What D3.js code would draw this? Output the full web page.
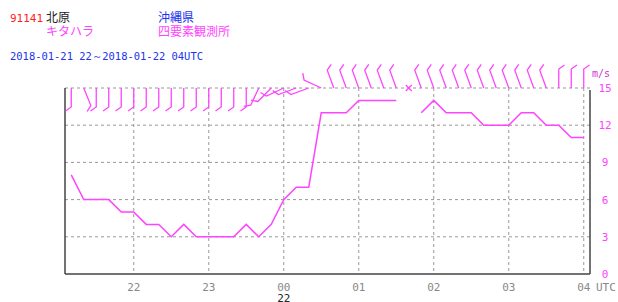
<!DOCTYPE html>
<html>
<head>
<meta charset="utf-8">
<script src="https://cdn.jsdelivr.net/npm/d3@7"></script>
<style>
body { margin: 0; background: #fff; }
svg { display: block; }
text { font-family: "DejaVu Sans Mono", monospace; }
</style>
</head>
<body>
<script>
// 10-minute observations, UTC
var times = ["21:10","21:20","21:30","21:40","21:50","22:00","22:10","22:20","22:30","22:40","22:50",
             "23:00","23:10","23:20","23:30","23:40","23:50","00:00","00:10","00:20","00:30","00:40",
             "00:50","01:00","01:10","01:20","01:30","01:40","01:50","02:00","02:10","02:20","02:30",
             "02:40","02:50","03:00","03:10","03:20","03:30","03:40","03:50","04:00"];
var speed = [8,6,6,6,5,5,4,4,3,4,3,
             3,3,3,4,3,4,6,7,7,13,13,
             13,14,14,14,14,null,13,14,13,13,13,
             12,12,12,13,13,12,12,11,11];
// wind direction (deg, from)
var dir = [180,158,180,180,180,180,180,180,180,180,180,
           180,180,180,180,205,225,245,250,250,295,340,
           340,340,340,340,340,null,340,340,340,340,340,
           340,340,340,340,340,340,360,360,360];
var yTicks = [0,3,6,9,12,15];
var hourTicks = ["22","23","00","01","02","03","04"];

var W = 618, H = 302;
var pLeft = 65, pRight = 590, pTop = 88, pBottom = 274;
var magenta = "#ff44ff";

function toDate(s) {
  var h = +s.slice(0,2), m = +s.slice(3);
  var day = h >= 12 ? 21 : 22;
  return new Date(Date.UTC(2018, 0, day, h, m));
}

var x = d3.scaleTime()
  .domain([new Date(Date.UTC(2018,0,21,21,5)), new Date(Date.UTC(2018,0,22,4,5))])
  .range([pLeft, pRight]);
var y = d3.scaleLinear().domain([0, 15]).range([pBottom, pTop]);

var svg = d3.select("body").append("svg").attr("width", W).attr("height", H);

// header text
svg.append("text").attr("x", 10).attr("y", 22).attr("fill", "#ff2020")
  .attr("font-size", 11).text("91141");
svg.append("text").attr("x", 46).attr("y", 22).attr("fill", "#222")
  .style("font-family", "'Noto Sans CJK JP'").attr("font-size", 12).text("北原");
svg.append("text").attr("x", 46).attr("y", 36).attr("fill", magenta)
  .style("font-family", "'Noto Sans CJK JP'").attr("font-size", 12).text("キタハラ");
svg.append("text").attr("x", 158).attr("y", 22).attr("fill", "#2233ee")
  .style("font-family", "'Noto Sans CJK JP'").attr("font-size", 12).text("沖縄県");
svg.append("text").attr("x", 158).attr("y", 36).attr("fill", magenta)
  .style("font-family", "'Noto Sans CJK JP'").attr("font-size", 12).text("四要素観測所");
svg.append("text").attr("x", 10).attr("y", 60).attr("fill", "#2233ee")
  .attr("font-size", 11).attr("textLength", 193).attr("lengthAdjust", "spacingAndGlyphs")
  .text("2018-01-21 22～2018-01-22 04UTC");

// grid
var hours = hourTicks.map(function(h, i) { return new Date(Date.UTC(2018,0,21,22+i,0)); });
svg.selectAll(".vgrid").data(hours).enter().append("line")
  .attr("x1", function(d) { return x(d); }).attr("x2", function(d) { return x(d); })
  .attr("y1", pTop).attr("y2", pBottom)
  .attr("stroke", "#999").attr("stroke-dasharray", "3,3");
svg.selectAll(".hgrid").data(yTicks.slice(1)).enter().append("line")
  .attr("x1", pLeft).attr("x2", pRight)
  .attr("y1", function(d) { return y(d); }).attr("y2", function(d) { return y(d); })
  .attr("stroke", "#999").attr("stroke-dasharray", "3,3");

// axes frame
svg.append("line").attr("x1", pLeft).attr("x2", pLeft).attr("y1", pTop).attr("y2", pBottom)
  .attr("stroke", "#444").attr("stroke-width", 1.5);
svg.append("line").attr("x1", pLeft).attr("x2", pRight).attr("y1", pBottom).attr("y2", pBottom)
  .attr("stroke", "#444").attr("stroke-width", 1.5);
svg.append("line").attr("x1", pRight).attr("x2", pRight).attr("y1", pTop + 2).attr("y2", pBottom)
  .attr("stroke", "#444").attr("stroke-width", 1.5);

// y labels
svg.selectAll(".ylab").data(yTicks).enter().append("text")
  .attr("x", 605).attr("y", function(d) { return y(d) + 4; })
  .attr("text-anchor", "middle").attr("fill", magenta).attr("font-size", 11)
  .text(function(d) { return d; });
svg.append("text").attr("x", 601).attr("y", 77).attr("text-anchor", "middle")
  .attr("fill", "#cc33cc").attr("font-size", 10).text("m/s");

// x labels
svg.selectAll(".xlab").data(hours).enter().append("text")
  .attr("x", function(d) { return x(d); }).attr("y", 291)
  .attr("text-anchor", "middle").attr("fill", "#888").attr("font-size", 11)
  .text(function(d, i) { return hourTicks[i]; });
svg.append("text").attr("x", 596).attr("y", 291).attr("fill", "#888").attr("font-size", 11).text("UTC");
svg.append("text").attr("x", x(hours[2])).attr("y", 302).attr("text-anchor", "middle")
  .attr("fill", "#222").attr("font-size", 11).text("22");

// speed line
var pts = times.map(function(t, i) { return { t: toDate(t), v: speed[i], d: dir[i] }; });
svg.append("path").datum(pts)
  .attr("fill", "none").attr("stroke", magenta).attr("stroke-width", 1.5)
  .attr("d", d3.line().defined(function(d) { return d.v != null; })
    .x(function(d) { return x(d.t); }).y(function(d) { return y(d.v); }));

// wind barbs
var L = 19, F = 7;
function vec(deg, len) {
  var r = deg * Math.PI / 180;
  return [Math.sin(r) * len, -Math.cos(r) * len];
}
var barbs = svg.append("g").attr("stroke", magenta).attr("stroke-width", 1.3).attr("fill", "none");
pts.forEach(function(p) {
  var bx = x(p.t), by = pTop;
  if (p.d == null) {
    barbs.append("path").attr("d", "M" + (bx-3) + "," + (by-3) + "L" + (bx+3) + "," + (by+3) +
      "M" + (bx-3) + "," + (by+3) + "L" + (bx+3) + "," + (by-3));
    return;
  }
  var s = vec(p.d, L), f = vec(p.d + 55, F);
  var tx = bx + s[0], ty = by + s[1];
  barbs.append("path").attr("d", "M" + bx + "," + by + "L" + tx + "," + ty + "L" + (tx + f[0]) + "," + (ty + f[1]));
});
</script>
</body>
</html>
